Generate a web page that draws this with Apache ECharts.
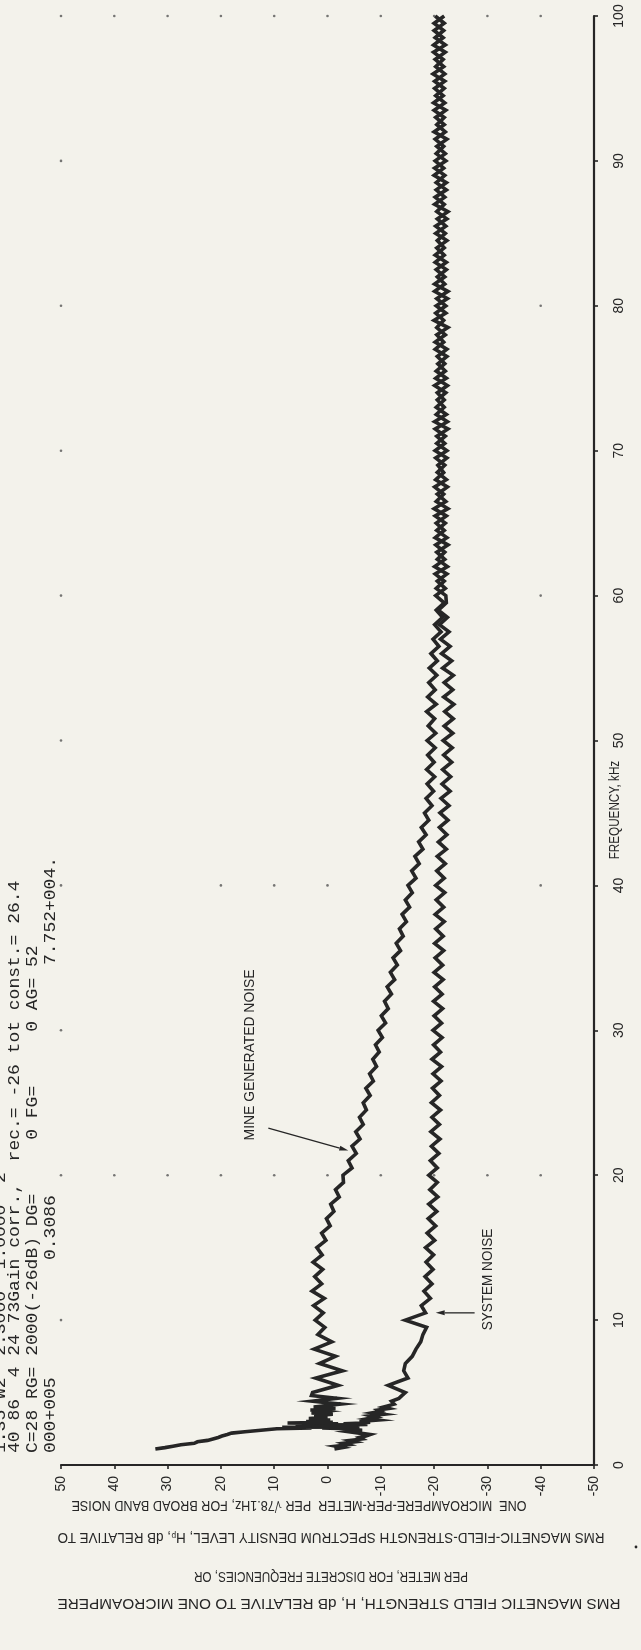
<!DOCTYPE html>
<html><head><meta charset="utf-8">
<script src="https://cdn.jsdelivr.net/npm/echarts@6/dist/echarts.min.js"></script>
<style>html,body{margin:0;padding:0;background:#f3f2eb;}#chart{width:641px;height:1650px;}</style>
</head><body><div id="chart"></div>
<script>
// ---------- DATA ----------
const dbTicks = [50, 40, 30, 20, 10, 0, -10, -20, -30, -40, -50];
const freqTicks = [0, 10, 20, 30, 40, 50, 60, 70, 80, 90, 100];

const mineLowFreq = [1.1,1.2,1.3,1.4,1.5,1.6,1.7,1.8,1.9,2.0,2.1,2.2,2.3,2.4,2.5,
  2.55,2.6,2.65,2.7,2.75,2.8,2.85,2.9,2.95,3.0,
  3.1,3.2,3.3,3.4,3.5,3.6,3.7,3.8,3.9,4.0,
  4.2,4.4,4.6,4.8];
const mineLowDb = [32.3,30.5,29,27.5,25,24.4,22.5,21.5,20.5,19.8,18.8,18,15.5,12.5,9.5,
  3,8.5,-3,6,-5.5,5,-2,7.5,-1,4,
  -0.5,3.5,0,2.5,-1,3,0.5,3.2,-1.5,2.6,
  -2.5,2.8,-1.8,3.0];

const systemLowFreq = [1.1,1.2,1.3,1.4,1.5,1.6,1.7,1.8,1.9,2.0,2.1,2.2,2.3,2.4,2.5,
  2.55,2.6,2.65,2.7,2.75,2.8,2.85,2.9,2.95,3.0,
  3.1,3.2,3.3,3.4,3.5,3.6,3.7,3.8,3.9,4.0,
  4.2,4.4,4.6,4.8];
const systemLowDb = [-1.3,-2.8,-1.5,-3.9,-3.0,-5.2,-4.2,-6.5,-6.0,-7.2,-8.0,-6.0,-4.0,-6.5,-3.5,
  1.0,-6.0,3.0,-5.0,-1.0,-7.5,-3.0,-6.5,-8.0,-6.0,
  -9.5,-7.5,-9.0,-8.0,-10.5,-8.5,-10.0,-9.5,-11.5,-10.5,
  -12.5,-12.0,-13.4,-14.0];

const gridFreq = [
5,5.5,6,6.5,7,7.5,8,8.5,9,9.5,
10,10.5,11,11.5,12,12.5,13,13.5,14,14.5,
15,15.5,16,16.5,17,17.5,18,18.5,19,19.5,
20,20.5,21,21.5,22,22.5,23,23.5,24,24.5,
25,25.5,26,26.5,27,27.5,28,28.5,29,29.5,
30,30.5,31,31.5,32,32.5,33,33.5,34,34.5,
35,35.5,36,36.5,37,37.5,38,38.5,39,39.5,
40,40.5,41,41.5,42,42.5,43,43.5,44,44.5,
45,45.5,46,46.5,47,47.5,48,48.5,49,49.5,
50,50.5,51,51.5,52,52.5,53,53.5,54,54.5,
55,55.5,56,56.5,57,57.5,58,58.5,59,59.5,
60,60.5,61,61.5,62,62.5,63,63.5,64,64.5,
65,65.5,66,66.5,67,67.5,68,68.5,69,69.5,
70,70.5,71,71.5,72,72.5,73,73.5,74,74.5,
75,75.5,76,76.5,77,77.5,78,78.5,79,79.5,
80,80.5,81,81.5,82,82.5,83,83.5,84,84.5,
85,85.5,86,86.5,87,87.5,88,88.5,89,89.5,
90,90.5,91,91.5,92,92.5,93,93.5,94,94.5,
95,95.5,96,96.5,97,97.5,98,98.5,99,99.5,
100];

const mineDb = [
2.8,-2.0,2.2,-2.8,1.5,-1.5,2.5,-0.8,1.8,0.5,
2.3,0.8,2.6,0.6,2.9,1.1,2.4,0.9,2.7,1.0,
2.0,0.3,1.1,-0.5,0.2,-1.2,-0.6,-2.2,-1.5,-3.0,
-2.9,-4.6,-3.9,-5.4,-4.6,-6.1,-5.3,-6.7,-6.0,-7.3,
-6.7,-8.0,-7.2,-8.6,-7.9,-9.2,-8.5,-9.7,-9.0,-10.3,
-9.5,-10.9,-10.1,-11.4,-10.7,-12.0,-11.2,-12.6,-11.8,-13.1,
-12.3,-13.7,-12.9,-14.2,-13.5,-14.8,-14.0,-15.4,-14.6,-15.9,
-15.1,-16.6,-15.8,-17.2,-16.4,-17.9,-17.1,-18.5,-17.6,-19.0,
-18.2,-19.6,-18.5,-19.9,-18.7,-20.1,-18.6,-20.0,-18.8,-20.2,
-18.7,-20.3,-18.9,-20.1,-18.6,-20.4,-18.8,-20.2,-19.0,-20.5,
-19.1,-20.6,-19.4,-20.9,-19.8,-21.3,-20.1,-21.6,-20.4,-21.9,
-20.3,-22.1,-20.6,-22.4,-20.1,-22.0,-20.5,-22.6,-20.2,-21.9,
-20.4,-22.3,-20.0,-22.2,-20.6,-22.5,-20.3,-21.8,-20.7,-22.4,
-20.2,-22.0,-20.5,-22.6,-20.1,-22.3,-20.4,-21.9,-20.6,-22.5,
-20.3,-22.1,-20.7,-22.4,-20.2,-21.8,-20.5,-22.6,-20.0,-22.2,
-20.4,-22.5,-20.1,-22.0,-20.6,-22.3,-20.2,-21.9,-20.5,-22.4,
-20.3,-22.2,-20.6,-22.6,-20.1,-22.0,-20.4,-22.3,-20.0,-21.8,
-20.2,-22.1,-20.5,-22.4,-20.0,-21.9,-20.3,-22.2,-19.9,-21.7,
-20.1,-22.0,-19.8,-21.8,-20.2,-22.1,-19.9,-21.7,-20.0,-21.9,
-20.2];

const systemDb = [
-14.6,-11.4,-15.1,-14.3,-14.6,-15.9,-16.6,-17.5,-17.9,-18.6,
-14.6,-18.4,-17.6,-19.3,-18.1,-19.6,-18.3,-19.8,-18.5,-19.9,
-18.4,-20.1,-18.7,-20.3,-18.9,-20.5,-19.0,-20.7,-19.2,-20.6,
-19.0,-20.6,-19.3,-20.9,-19.5,-21.1,-19.4,-21.0,-19.6,-21.2,
-19.5,-21.0,-19.7,-21.3,-19.8,-21.4,-19.6,-21.2,-19.9,-21.5,
-19.8,-21.4,-20.0,-21.6,-19.9,-21.5,-20.1,-21.7,-20.0,-21.6,
-20.2,-21.8,-20.1,-21.7,-20.3,-21.9,-20.2,-21.8,-20.4,-22.0,
-20.3,-21.9,-20.5,-22.1,-20.6,-22.3,-20.8,-22.4,-21.0,-22.6,
-21.1,-22.8,-21.3,-23.0,-21.5,-23.1,-21.6,-23.3,-21.8,-23.4,
-21.7,-23.5,-21.9,-23.6,-22.0,-23.7,-21.8,-23.5,-21.9,-23.6,
-21.6,-23.3,-21.4,-23.0,-21.2,-22.8,-21.0,-22.5,-20.8,-22.3,
-22.2,-20.4,-21.9,-20.2,-22.5,-20.6,-22.0,-20.3,-22.4,-20.5,
-22.1,-20.2,-22.6,-20.4,-21.8,-20.1,-22.3,-20.6,-22.0,-20.3,
-22.4,-20.5,-22.1,-20.2,-22.5,-20.4,-21.9,-20.6,-22.2,-20.1,
-22.3,-20.4,-22.0,-20.6,-22.4,-20.2,-22.1,-20.5,-21.8,-20.3,
-22.2,-20.5,-22.6,-20.1,-22.0,-20.4,-22.3,-20.2,-21.9,-20.6,
-22.1,-20.3,-22.4,-20.5,-21.9,-20.2,-22.3,-20.4,-22.0,-20.1,
-22.2,-20.4,-21.8,-20.2,-22.1,-20.5,-21.9,-20.0,-22.0,-20.3,
-21.9,-20.1,-22.0,-20.3,-21.7,-19.9,-22.1,-20.2,-21.8,-20.0,
-21.9];

// grid dots (dB columns per frequency row)
const dotRows = {
  100: [50, 40, 30, 20, 10, 0, -10, -20, -30, -40],
  80: [50, -40],
  60: [50, -40],
  40: [50, 20, 10, 0, -40],
  20: [50, 40, 30, 20, 10, 0, -10, -20, -30, -40]
};
const leftDotFreqs = [10, 30, 50, 70, 90];

const headerLines = [
  '1:35 W2  2.3000  1.0000  2',
  '40 86  4 24 73Gain corr.,  rec.= -26 tot const.= 26.4',
  'C=28 RG= 2000(-26dB) DG=     0 FG=     0 AG= 52'
];
const headerLine3 = ['000+005', '0.3086', '7.752+004.'];
const yTitleLines = [
  'ONE  MICROAMPERE-PER-METER  PER \u221A78.1Hz, FOR BROAD BAND NOISE',
  'RMS MAGNETIC-FIELD-STRENGTH SPECTRUM DENSITY LEVEL, H\u209A, dB RELATIVE TO',
  'PER METER, FOR DISCRETE FREQUENCIES, OR',
  'RMS MAGNETIC FIELD STRENGTH, H, dB RELATIVE TO ONE MICROAMPERE'
];
const xTitle = 'FREQUENCY, kHz';
const mineLabel = 'MINE GENERATED NOISE';
const systemLabel = 'SYSTEM NOISE';

// ---------- BUILD ----------
const INK = '#262626';
const NARROW = "'Liberation Sans Narrow', 'Liberation Sans', 'DejaVu Sans Condensed', sans-serif";
const MONO = "'Liberation Mono', 'DejaVu Sans Mono', monospace";
const SANS = "'Liberation Sans', Arial, sans-serif";

function pairs(fs, ds) { return fs.map((f, i) => [ds[i], f]); }
const mineData = pairs(mineLowFreq, mineLowDb).concat(pairs(gridFreq, mineDb));
const systemData = pairs(systemLowFreq, systemLowDb).concat(pairs(gridFreq, systemDb));
const dotData = [];
Object.keys(dotRows).forEach(f => dotRows[f].forEach(d => dotData.push([d, +f])));
leftDotFreqs.forEach(f => dotData.push([50, f]));

const GRID = { left: 61, right: 47, top: 16, bottom: 185 };

const chart = echarts.init(document.getElementById('chart'), null, { renderer: 'canvas', width: 641, height: 1650 });

const axisCommon = {
  type: 'value',
  axisLine: { show: true, onZero: false, lineStyle: { color: INK, width: 2.2 } },
  axisTick: { show: true, length: 4, lineStyle: { color: INK, width: 1.6 } },
  splitLine: { show: false }
};

chart.setOption({
  backgroundColor: '#f3f2eb',
  animation: false,
  grid: GRID,
  xAxis: Object.assign({}, axisCommon, {
    min: -50, max: 50, interval: 10, inverse: true, position: 'bottom',
    axisLabel: { rotate: 90, color: INK, fontFamily: SANS, fontSize: 14, margin: 11 }
  }),
  yAxis: Object.assign({}, axisCommon, {
    min: 0, max: 100, interval: 10, position: 'right',
    axisLabel: { rotate: 90, color: INK, fontFamily: SANS, fontSize: 14, margin: 18 }
  }),
  series: [
    { type: 'scatter', data: dotData, symbolSize: 2.6, itemStyle: { color: '#555' }, z: 1, silent: true },
    { name: 'Mine generated noise', type: 'line', data: mineData, showSymbol: false, z: 3,
      lineStyle: { color: INK, width: 3.6, join: 'miter' } },
    { name: 'System noise', type: 'line', data: systemData, showSymbol: false, z: 3,
      lineStyle: { color: INK, width: 3.6, join: 'miter' } }
  ]
});

// ---------- TEXT / ANNOTATIONS ----------
const mctx = document.createElement('canvas').getContext('2d');
function measure(text, size, family) { mctx.font = size + 'px ' + family; return mctx.measureText(text).width; }
function txtStyle(text, size, family, align, valign) {
  return { text, fontSize: size, fontFamily: family, font: size + 'px ' + family, fill: INK,
           align, verticalAlign: valign, textAlign: align, textVerticalAlign: valign };
}
// text reading upward (rotated 90deg CCW), starting at (x, yStart); either fit to yEnd or use a fixed scale
function upText(text, x, yStart, yEnd, size, family, fixedScale) {
  const s = fixedScale != null ? fixedScale : (yStart - yEnd) / measure(text, size, family);
  return { type: 'text', x, y: yStart, rotation: Math.PI / 2, scaleX: s, silent: true,
           style: txtStyle(text, size, family, 'left', 'middle') };
}
// upside-down text centered at (cx, cy) with given width
function flipText(text, cx, cy, width, size, family) {
  const s = width / measure(text, size, family);
  return { type: 'text', x: cx, y: cy, rotation: Math.PI, scaleX: s, silent: true,
           style: txtStyle(text, size, family, 'center', 'middle') };
}
function arrow(p0, p1) {
  const dx = p1[0] - p0[0], dy = p1[1] - p0[1], L = Math.hypot(dx, dy), ux = dx / L, uy = dy / L;
  const hl = 9, hw = 5;
  const bx = p1[0] - ux * hl, by = p1[1] - uy * hl, px = -uy * hw / 2, py = ux * hw / 2;
  return [
    { type: 'line', silent: true, shape: { x1: p0[0], y1: p0[1], x2: bx, y2: by }, style: { stroke: INK, lineWidth: 1.3 } },
    { type: 'polygon', silent: true, shape: { points: [[p1[0], p1[1]], [bx + px, by + py], [bx - px, by - py]] }, style: { fill: INK } }
  ];
}
const px = (db, f) => chart.convertToPixel({ gridIndex: 0 }, [db, f]);

const g = [];
// header block (left, rotated, monospaced with common character pitch)
const HDR_SIZE = 16.5, HDR_PITCH = 10.8;
const hdrScale = HDR_PITCH / measure('0', HDR_SIZE, MONO);
const hdrStart = 1453;
[[headerLines[0], 1], [headerLines[1], 15], [headerLines[2], 33]].forEach(([t, x]) =>
  g.push(upText(t, x, hdrStart, null, HDR_SIZE, MONO, hdrScale)));
g.push(upText(headerLine3[0], 51, hdrStart, null, HDR_SIZE, MONO, hdrScale));
g.push(upText(headerLine3[1], 51, 1260, null, HDR_SIZE, MONO, hdrScale));
g.push(upText(headerLine3[2], 51, 965, null, HDR_SIZE, MONO, hdrScale));

// curve annotations (anchored in data space)
const mA = px(14.5, 22.4), mB = px(14.5, 34.2);
g.push(upText(mineLabel, mA[0], mA[1], mB[1], 15, NARROW));
g.push(...arrow(px(11.1, 23.25), px(-3.9, 21.7)));
const sA = px(-30.1, 9.3), sB = px(-30.1, 16.3);
g.push(upText(systemLabel, sA[0], sA[1], sB[1], 15, NARROW));
g.push(...arrow(px(-27.6, 10.5), px(-20.3, 10.5)));

// axis titles
const tA = px(-50, 41.8), tB = px(-50, 48.6);
g.push(upText(xTitle, tA[0] + 21, tA[1], tB[1], 15, NARROW));
const yt = [[299, 1505, 455], [331, 1537, 547], [331, 1576, 274], [339, 1603, 563]];
yTitleLines.forEach((t, i) => g.push(flipText(t, yt[i][0], yt[i][1], yt[i][2], 15, NARROW)));
// stray dot at bottom right
g.push({ type: 'circle', silent: true, shape: { cx: 636, cy: 1547, r: 1.4 }, style: { fill: INK } });

chart.setOption({ graphic: { elements: g } });
</script>
</body></html>
